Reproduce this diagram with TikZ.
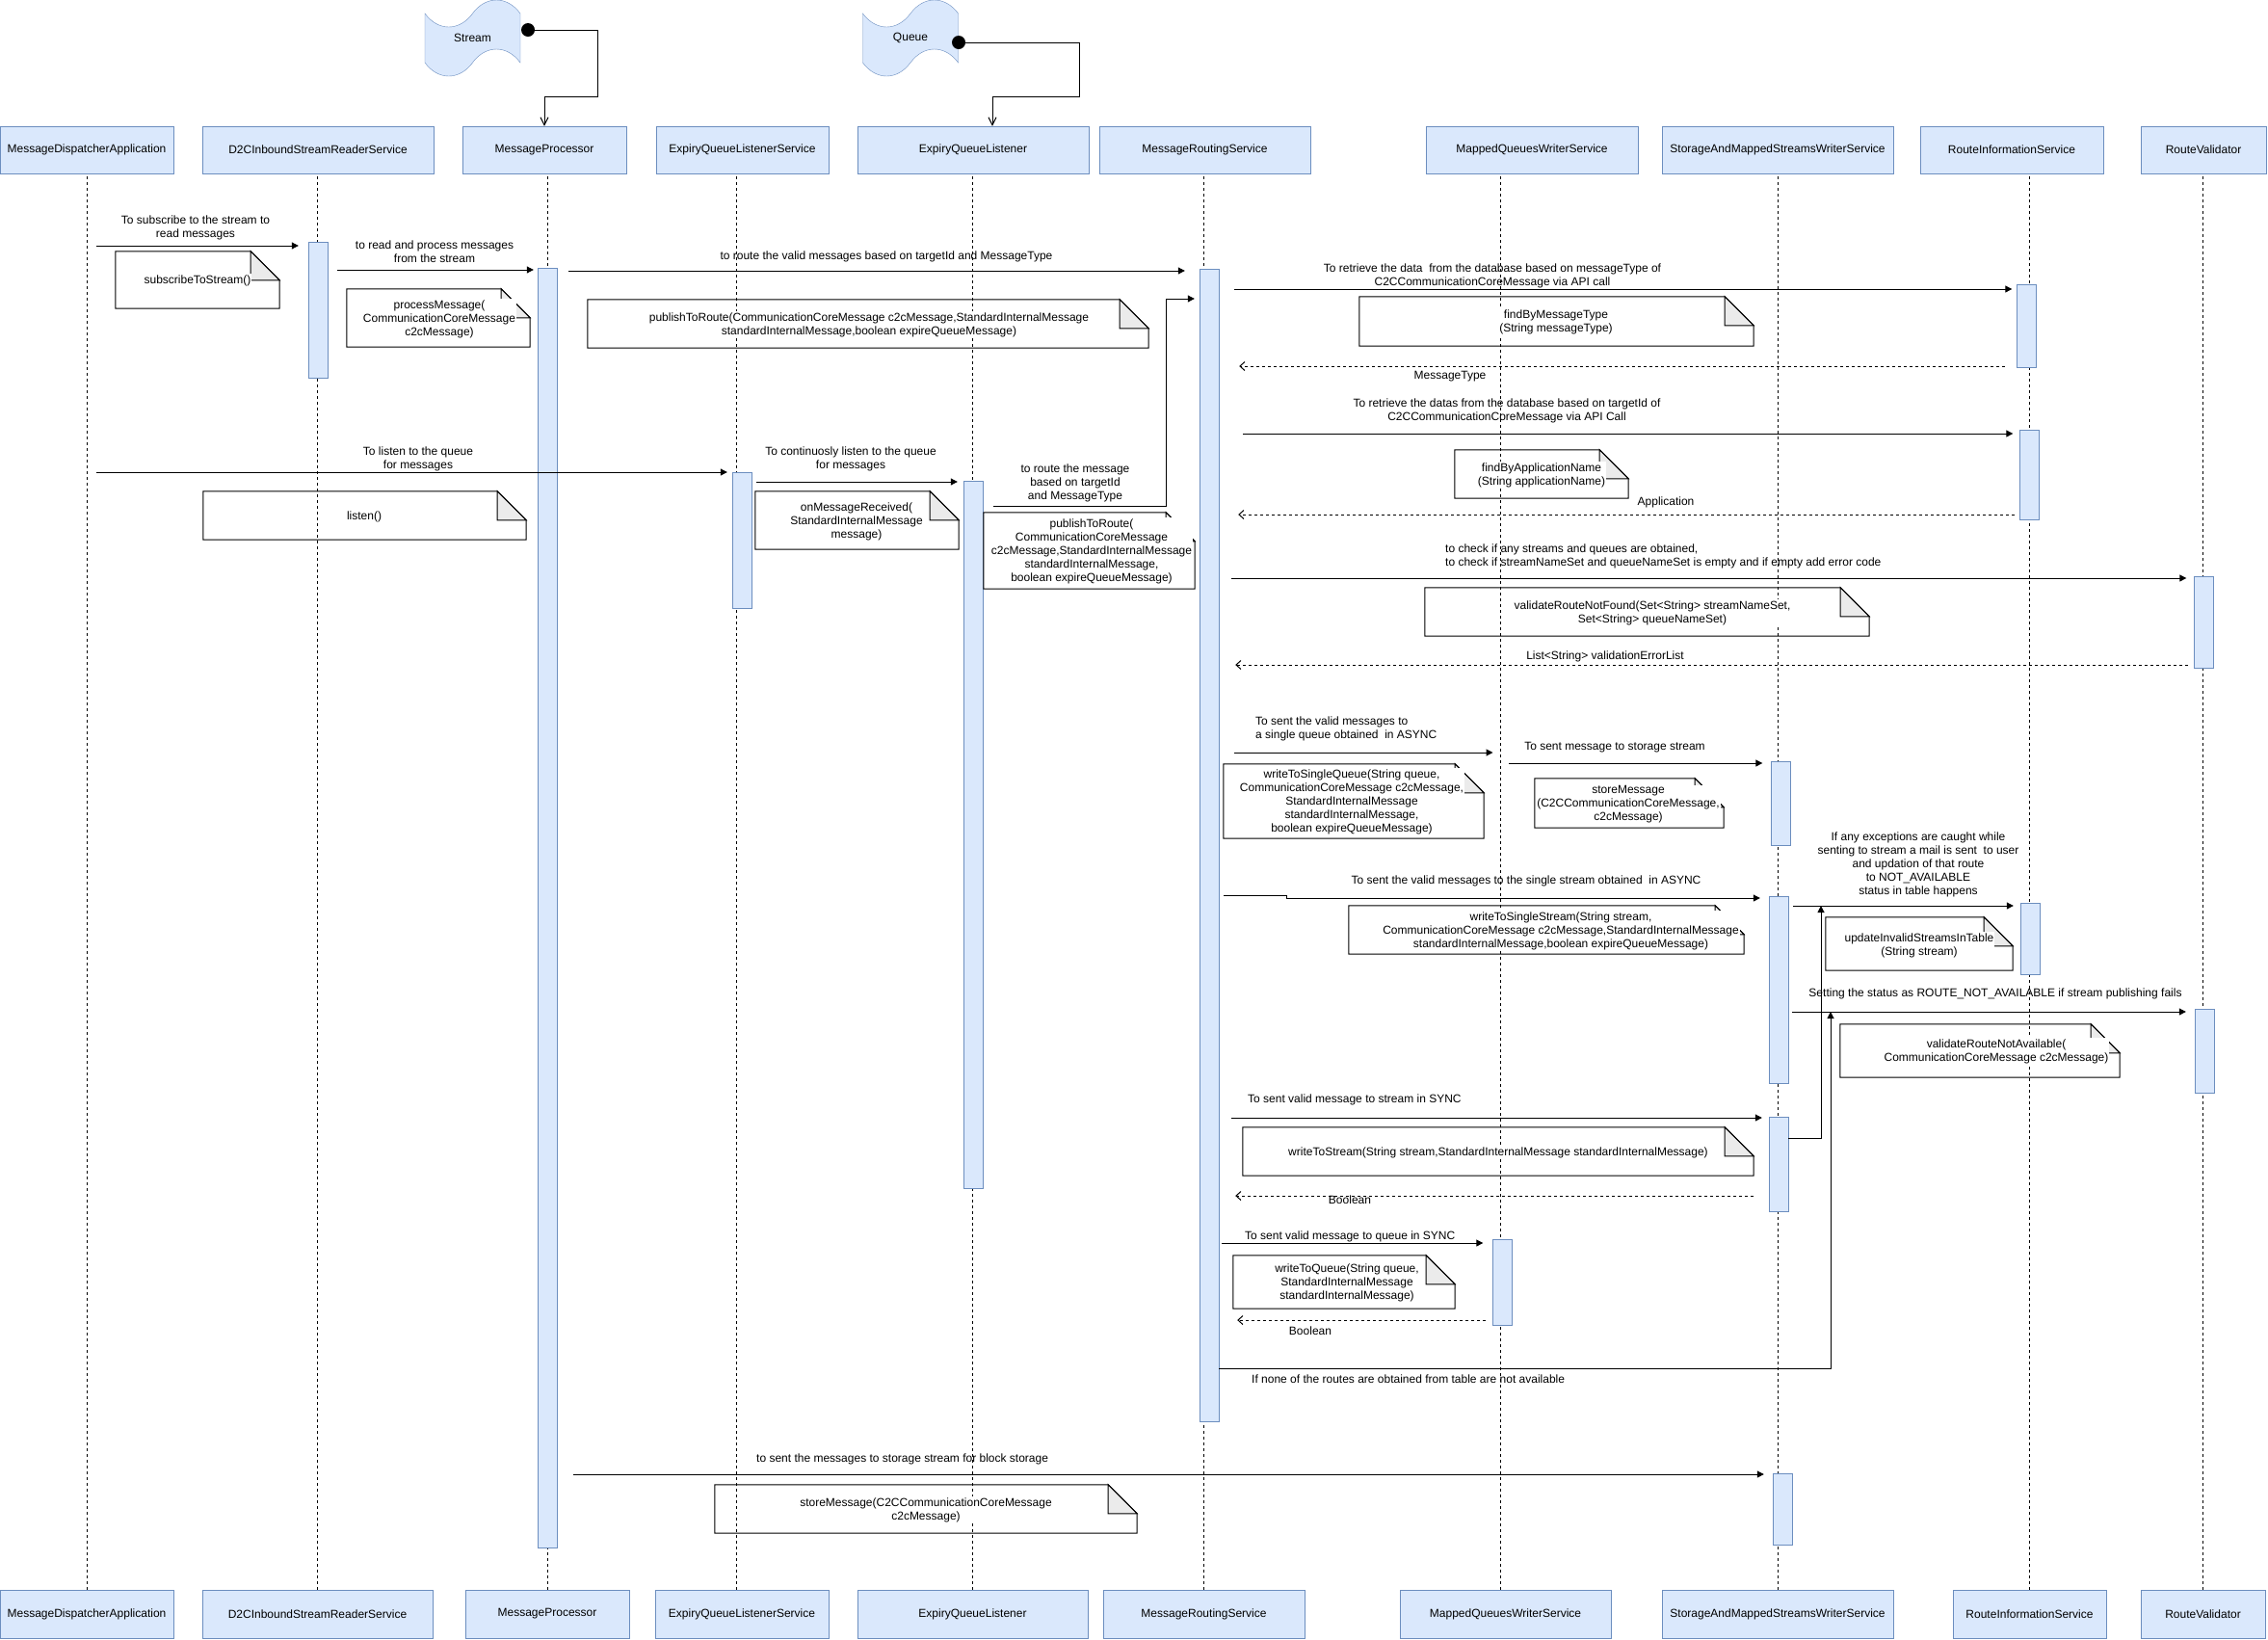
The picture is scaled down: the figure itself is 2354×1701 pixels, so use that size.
\documentclass[tikz,border=0pt]{standalone}
\usepackage{fontspec}
\setmainfont{Liberation Sans}
\usetikzlibrary{arrows.meta, shapes.symbols}
\definecolor{hdrfill}{HTML}{DAE8FC}
\definecolor{hdrline}{HTML}{6C8EBF}
\definecolor{foldfill}{HTML}{EBEBEB}

% note with folded corner: name, x1, y1, x2, y2, text x, text y, text
\newcommand{\notebox}[8]{%
  \node[notearea, minimum width={(#4-#2)*1pt}, minimum height={(#5-#3)*1pt}] (#1) at ({(#2+#4)/2},{(#3+#5)/2}) {};
  \draw[noteline] (#1.north west) -- ([xshift=-30pt]#1.north east) -- ([yshift=-30pt]#1.north east) -- (#1.south east) -- (#1.south west) -- cycle;
  \filldraw[noteline, fill=foldfill] ([xshift=-30pt]#1.north east) -- ([xshift=-30pt,yshift=-30pt]#1.north east) -- ([yshift=-30pt]#1.north east) -- cycle;
  \node[notetext] (#1-t) at (#6,#7) {#8};}

\begin{document}
\begin{tikzpicture}[x=1pt, y=-1pt, font=\fontsize{12}{14}\selectfont,
    hdr/.style={draw=hdrline, fill=hdrfill, minimum height=49pt, inner sep=0pt},
    foot/.style={hdr, minimum height=50pt},
    bar/.style={draw=hdrline, fill=hdrfill, minimum width=20pt, inner sep=0pt},
    life/.style={dash pattern=on 3pt off 3pt, line width=0.8pt},
    msg/.style={line width=1pt, -{Triangle[length=7pt,width=7pt]}},
    ret/.style={line width=1pt, dash pattern=on 3pt off 3pt, -{Straight Barb[length=5pt,width=9pt]}},
    feed/.style={line width=1pt, -{Straight Barb[length=8pt,width=8pt]}},
    lbl/.style={inner sep=0pt, align=center},
    lbll/.style={inner sep=0pt, align=left, anchor=west},
    notearea/.style={inner sep=0pt},
    noteline/.style={line width=1pt},
    notetext/.style={fill=white, inner sep=1pt, align=center},
    tapebox/.style={tape, draw=hdrline, fill=hdrfill, minimum width=99pt, minimum height=79pt,
      tape bend top=in and out, tape bend bottom=in and out, tape bend height=28pt, inner sep=0pt},
    dot/.style={circle, fill=black, minimum size=14pt, inner sep=0pt}]
  \useasboundingbox (0,0) rectangle (2354,1701);

  % participants
  \node[hdr, minimum width=180pt] (mda) at (90,155.5) {MessageDispatcherApplication};
  \node[hdr, minimum width=240pt] (d2c) at (330,155.5) {D2CInboundStreamReaderService};
  \node[hdr, minimum width=170pt] (mp) at (565,155.5) {MessageProcessor};
  \node[hdr, minimum width=179pt] (eqls) at (770.5,155.5) {ExpiryQueueListenerService};
  \node[hdr, minimum width=240pt] (eql) at (1010,155.5) {ExpiryQueueListener};
  \node[hdr, minimum width=219pt] (mrs) at (1250.5,155.5) {MessageRoutingService};
  \node[hdr, minimum width=220pt] (mqws) at (1590,155.5) {MappedQueuesWriterService};
  \node[hdr, minimum width=240pt] (sms) at (1845,155.5) {StorageAndMappedStreamsWriterService};
  \node[hdr, minimum width=190pt] (ris) at (2088,155.5) {RouteInformationService};
  \node[hdr, minimum width=130pt] (rv) at (2287,155.5) {RouteValidator};

  \node[foot, minimum width=180pt] (mda-b) at (90,1675) {MessageDispatcherApplication};
  \node[foot, minimum width=239pt] (d2c-b) at (329.5,1675) {D2CInboundStreamReaderService};
  \node[foot, minimum width=170pt] (mp-b) at (568,1675) {MessageProcessor};
  \node[foot, minimum width=180pt] (eqls-b) at (770,1675) {ExpiryQueueListenerService};
  \node[foot, minimum width=239pt] (eql-b) at (1009.5,1675) {ExpiryQueueListener};
  \node[foot, minimum width=209pt] (mrs-b) at (1249.5,1675) {MessageRoutingService};
  \node[foot, minimum width=219pt] (mqws-b) at (1562.5,1675) {MappedQueuesWriterService};
  \node[foot, minimum width=240pt] (sms-b) at (1845,1675) {StorageAndMappedStreamsWriterService};
  \node[foot, minimum width=159pt] (ris-b) at (2106.5,1675) {RouteInformationService};
  \node[foot, minimum width=129pt] (rv-b) at (2286.5,1675) {RouteValidator};

  \foreach \n in {mda,d2c,mp,eql,mrs,sms,ris,rv}
    \draw[life] (\n-b.north) -- (\n-b.north |- \n.south);
  \draw[life] ([xshift=-6pt]eqls-b.north) -- ([xshift=-6pt]eqls-b.north |- eqls.south);
  \draw[life] ([xshift=-5pt]mqws-b.north) -- ([xshift=-5pt]mqws-b.north |- mqws.south);

  % stream and queue
  \node[tapebox] (stream) at (490.5,39.5) {Stream};
  \node[dot] (sdot) at (548,31) {};
  \draw[feed] (sdot) -- (620,31) -- (620,100) -| (mp.north);
  \node[tapebox] (queue) at (945,39.5) {Queue};
  \node[dot] (qdot) at (995,44) {};
  \draw[feed] (qdot) -- (1120,44) -- (1120,100) -| ([xshift=20pt]eql.north);

  % activations
  \node[bar, minimum height=141pt] (d2c-a) at (330,321.5) {};
  \node[bar, minimum height=1328pt] (mp-a) at (568,942) {};
  \node[bar, minimum height=141pt] (eqls-a) at (770,560.5) {};
  \node[bar, minimum height=734pt] (eql-a) at (1010,866) {};
  \node[bar, minimum height=1196pt] (mrs-a) at (1255,877) {};
  \node[bar, minimum height=86pt] (ris-a1) at (2103.5,338) {};
  \node[bar, minimum height=93pt] (ris-a2) at (2106.5,492.5) {};
  \node[bar, minimum height=95pt] (rv-a1) at (2287.5,645.5) {};
  \node[bar, minimum height=87pt] (sms-a1) at (1848.5,833.5) {};
  \node[bar, minimum height=194pt] (sms-a2) at (1846,1027) {};
  \node[bar, minimum height=74pt] (ris-a3) at (2107,974) {};
  \node[bar, minimum height=87pt] (rv-a2) at (2288,1090.5) {};
  \node[bar, minimum height=98pt] (sms-a3) at (1846,1208) {};
  \node[bar, minimum height=89pt] (mqws-a) at (1559.5,1330.5) {};
  \node[bar, minimum height=74pt] (sms-a4) at (1850,1566) {};

  % messages
  \coordinate (m1) at (100,255);
  \draw[msg, shorten >=10pt] (m1) -- (m1 -| d2c-a.west);
  \node[lbl] (m1-l) at (203,236) {To subscribe to the stream to\\read messages};
  \coordinate (m2) at (350,280);
  \draw[msg, shorten >=4pt] (m2) -- (m2 -| mp-a.west);
  \node[lbl] (m2-l) at (451,261) {to read and process messages\\from the stream};
  \coordinate (m3) at (590,281);
  \draw[msg, shorten >=15pt] (m3) -- (m3 -| mrs-a.west);
  \node[lbl] (m3-l) at (920,266) {to route the valid messages based on targetId and MessageType};
  \coordinate (m16) at (100,490);
  \draw[msg, shorten >=5pt] (m16) -- (m16 -| eqls-a.west);
  \node[lbl] (m16-l) at (434,476) {To listen to the queue\\for messages};
  \coordinate (m17) at (785,500);
  \draw[msg, shorten >=6pt] (m17) -- (m17 -| eql-a.west);
  \node[lbl] (m17-l) at (883,476) {To continuosly listen to the queue\\for messages};
  \coordinate (m4) at (1031,525);
  \coordinate (m4b) at (1210,310);
  \draw[msg, shorten >=5pt] (m4) -| (m4b) -- (m4b -| mrs-a.west);
  \node[lbl] (m4-l) at (1116,501) {to route the message\\based on targetId\\and MessageType};
  \coordinate (m5) at (1281,300);
  \draw[msg, shorten >=5pt] (m5) -- (m5 -| ris-a1.west);
  \node[lbl] (m5-l) at (1549,286) {To retrieve the data~ from the database based on messageType of\\C2CCommunicationCoreMessage via API call};
  \coordinate (r5) at (2081,380);
  \draw[ret, shorten >=21pt] (r5) -- (r5 -| mrs-a.east);
  \node[lbl] (r5-l) at (1505,391) {MessageType};
  \coordinate (m6) at (1290,450);
  \draw[msg, shorten >=7pt] (m6) -- (m6 -| ris-a2.west);
  \node[lbl] (m6-l) at (1564,426) {To retrieve the datas from the database based on targetId of\\C2CCommunicationCoreMessage via API Call};
  \coordinate (r6) at (2091,534);
  \draw[ret, shorten >=20pt] (r6) -- (r6 -| mrs-a.east);
  \node[lbl] (r6-l) at (1729,521) {Application};
  \coordinate (m7) at (1278,600);
  \draw[msg, shorten >=8pt] (m7) -- (m7 -| rv-a1.west);
  \node[lbll] (m7-l) at (1500,577) {to check if any streams and queues are obtained,\\to check if streamNameSet and queueNameSet is empty and if empty add error code};
  \coordinate (r7) at (2271,690);
  \draw[ret, shorten >=17pt] (r7) -- (r7 -| mrs-a.east);
  \node[lbl] (r7-l) at (1666,681) {List<String> validationErrorList};
  \coordinate (m8) at (1281,781);
  \draw[msg, shorten >=13pt] (m8) -- (m8 -| mqws-b.north);
  \node[lbll] (m8-l) at (1303,756) {To sent the valid messages to\\a single queue obtained~ in ASYNC};
  \coordinate (m9) at (1566,792);
  \draw[msg, shorten >=9pt] (m9) -- (m9 -| sms-a1.west);
  \node[lbl] (m9-l) at (1676,776) {To sent message to storage stream};
  \coordinate (m10) at (1270,929);
  \coordinate (m10b) at (1335,932);
  \draw[msg, shorten >=9pt] (m10) -| (m10b) -- (m10b -| sms-a2.west);
  \node[lbl] (m10-l) at (1584,914) {To sent the valid messages to the single stream obtained~ in ASYNC};
  \coordinate (m11) at (1861,940);
  \draw[msg, shorten >=7pt] (m11) -- (m11 -| ris-a3.west);
  \node[lbl] (m11-l) at (1991,897) {If any exceptions are caught while\\senting to stream a mail is sent~ to user\\and updation of that route\\to NOT\_AVAILABLE\\status in table happens};
  \coordinate (m12) at (1860,1050);
  \draw[msg, shorten >=9pt] (m12) -- (m12 -| rv-a2.west);
  \node[lbl] (m12-l) at (2071,1031) {Setting the status as ROUTE\_NOT\_AVAILABLE if stream publishing fails};
  \coordinate (m13) at (1278,1160);
  \draw[msg, shorten >=7pt] (m13) -- (m13 -| sms-a3.west);
  \node[lbll] (m13-l) at (1295,1141) {To sent valid message to stream in SYNC};
  \coordinate (r13) at (1820,1241);
  \draw[ret, shorten >=17pt] (r13) -- (r13 -| mrs-a.east);
  \node[lbl] (r13-l) at (1401,1245) {Boolean};
  \coordinate (m14) at (1268,1290);
  \draw[msg, shorten >=10pt] (m14) -- (m14 -| mqws-a.west);
  \node[lbll] (m14-l) at (1292,1283) {To sent valid message to queue in SYNC};
  \coordinate (r14) at (1542,1370);
  \draw[ret, shorten >=19pt] (r14) -- (r14 -| mrs-a.east);
  \node[lbl] (r14-l) at (1360,1381) {Boolean};
  \coordinate (k1) at (1890,1181);
  \draw[msg] (k1 -| sms-a3.east) -- (k1) -- (k1 |- m11);
  \coordinate (k2) at (1900,1420);
  \draw[msg] (k2 -| mrs-a.east) -- (k2) -- (k2 |- m12);
  \node[lbll] (k2-l) at (1299,1431) {If none of the routes are obtained from table are not available};
  \coordinate (m15) at (594.5,1530);
  \draw[msg, shorten >=9pt] (m15) -- (m15 -| sms-a4.west);
  \node[lbll] (m15-l) at (785,1514) {to sent the messages to storage stream for block storage};

  % notes
  \notebox{n1}{120}{261}{290}{320}{205}{291}{subscribeToStream()}
  \notebox{n2}{360}{300}{550}{360}{456}{331}{processMessage(\\CommunicationCoreMessage\\c2cMessage)}
  \notebox{n3}{610}{311}{1192}{361}{902}{337}{publishToRoute(CommunicationCoreMessage c2cMessage,StandardInternalMessage\\standardInternalMessage,boolean expireQueueMessage)}
  \notebox{n4}{1411}{308}{1820}{359}{1615}{334}{findByMessageType\\(String messageType)}
  \notebox{n5}{1510}{467}{1690}{517}{1600}{493}{findByApplicationName\\(String applicationName)}
  \notebox{n6}{1479}{610}{1940}{660}{1715}{636}{validateRouteNotFound(Set<String> streamNameSet,\\Set<String> queueNameSet)}
  \notebox{n7}{211}{510}{546}{560}{378}{536}{listen()}
  \notebox{n8}{784}{510}{995}{570}{889}{541}{onMessageReceived(\\StandardInternalMessage\\message)}
  \notebox{n9}{1021}{532}{1240}{611}{1133}{572}{publishToRoute(\\CommunicationCoreMessage\\c2cMessage,StandardInternalMessage\\standardInternalMessage,\\boolean expireQueueMessage)}
  \notebox{n10}{1270}{793}{1540}{870}{1403}{832}{writeToSingleQueue(String queue,\\CommunicationCoreMessage c2cMessage,\\StandardInternalMessage\\standardInternalMessage,\\boolean expireQueueMessage)}
  \notebox{n11}{1593}{808}{1789}{859}{1690}{835}{storeMessage\\(C2CCommunicationCoreMessage,\\c2cMessage)}
  \notebox{n12}{1400}{940}{1810}{990}{1620}{966}{writeToSingleStream(String stream,\\CommunicationCoreMessage c2cMessage,StandardInternalMessage\\standardInternalMessage,boolean expireQueueMessage)}
  \notebox{n13}{1895}{952}{2089}{1007}{1992}{981}{updateInvalidStreamsInTable\\(String stream)}
  \notebox{n14}{1910}{1063}{2200}{1118}{2072}{1091}{validateRouteNotAvailable(\\CommunicationCoreMessage c2cMessage)}
  \notebox{n15}{1290}{1170}{1820}{1220}{1555}{1196}{writeToStream(String stream,StandardInternalMessage standardInternalMessage)}
  \notebox{n16}{1280}{1303}{1510}{1358}{1398}{1331}{writeToQueue(String queue,\\StandardInternalMessage\\standardInternalMessage)}
  \notebox{n17}{742}{1541}{1180}{1591}{961}{1567}{storeMessage(C2CCommunicationCoreMessage\\c2cMessage)}
\end{tikzpicture}
\end{document}
